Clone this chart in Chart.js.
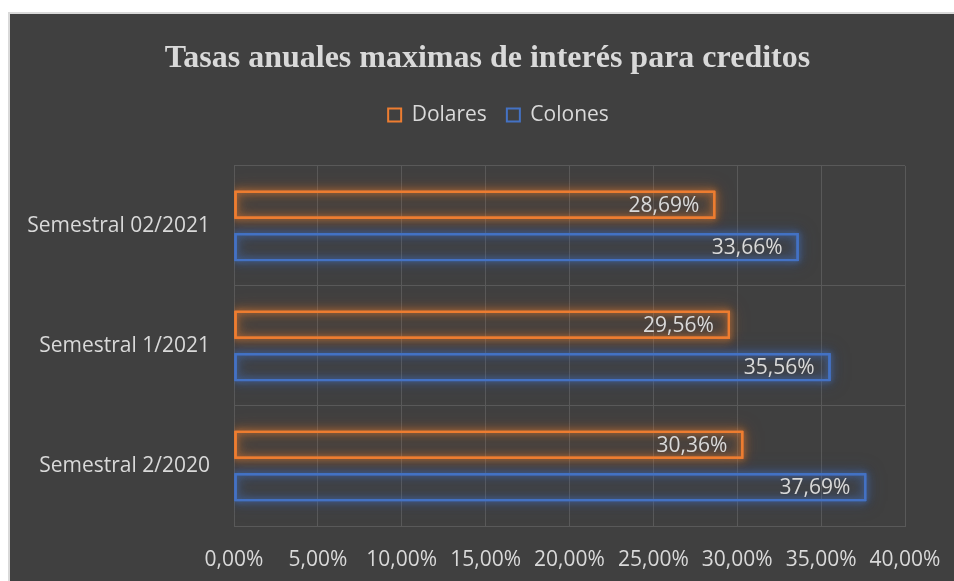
<!DOCTYPE html>
<html>
<head>
<meta charset="utf-8">
<script src="https://cdn.jsdelivr.net/npm/chart.js@4/dist/chart.umd.min.js"></script>
<style>
  html, body { margin: 0; padding: 0; background: #ffffff; width: 954px; height: 581px; overflow: hidden; }
  #wrap { position: absolute; left: 8px; top: 12px; width: 946px; height: 569px;
          border-left: 2px solid #d9d9d9; border-top: 2px solid #d9d9d9; background: #404040; }
  canvas { display: block; }
</style>
</head>
<body>
<div id="wrap"><canvas id="c" width="944" height="567"></canvas></div>
<script>
const categories = ["Semestral 02/2021", "Semestral 1/2021", "Semestral 2/2020"];
const dolares = [28.69, 29.56, 30.36];
const colones = [33.66, 35.56, 37.69];
const seriesNames = ["Dolares", "Colones"];
const xMin = 0, xMax = 40, xStep = 5;

const ORANGE = '#ED7D31';
const BLUE = '#4472C4';
const TEXT = '#d9d9d9';
const GRID = '#595959';
const FONT = '"Open Sans", "Noto Sans", sans-serif';

function fmt(v) { return v.toFixed(2).replace('.', ',') + '%'; }

const glowPlugin = {
  id: 'glow',
  beforeDatasetsDraw(chart) {
    const ctx = chart.ctx, a = chart.chartArea;
    ctx.save();
    ctx.beginPath();
    ctx.rect(a.left, 0, chart.width - a.left, chart.height);
    ctx.clip();
    chart.data.datasets.forEach((ds, i) => {
      const meta = chart.getDatasetMeta(i);
      meta.data.forEach(el => {
        const p = el.getProps(['x', 'y', 'base', 'height'], true);
        const l = Math.min(p.base, p.x), r = Math.max(p.base, p.x);
        const t = p.y - p.height / 2;
        ctx.strokeStyle = ds.glowColor;
        ctx.shadowColor = ds.glowColor;
        ctx.lineWidth = 2;
        [18, 12, 8, 5].forEach(b => {
          ctx.shadowBlur = b;
          ctx.strokeRect(l + 1, t + 1, r - l - 2, p.height - 2);
        });
      });
    });
    ctx.restore();
  }
};

const labelPlugin = {
  id: 'barLabels',
  afterDatasetsDraw(chart) {
    const ctx = chart.ctx;
    ctx.save();
    ctx.font = '21px ' + FONT;
    ctx.fillStyle = TEXT;
    ctx.textAlign = 'right';
    ctx.textBaseline = 'middle';
    chart.data.datasets.forEach((ds, i) => {
      const meta = chart.getDatasetMeta(i);
      meta.data.forEach((el, j) => {
        const p = el.getProps(['x', 'y'], true);
        ctx.fillText(fmt(ds.data[j]), p.x - 16, p.y + 1);
      });
    });
    ctx.restore();
  }
};

const layoutTweaks = {
  id: 'layoutTweaks',
  beforeLayout(chart) {
    const lg = chart.legend;
    if (lg && !lg._spaced) {
      const f = lg.fit.bind(lg);
      lg.fit = function () { f(); this.height += 30.5; };
      lg._spaced = true;
    }
  },
  afterLayout(chart) {
    const lg = chart.legend, tt = chart.titleBlock;
    if (lg) { lg.left += 41; lg.right += 41; }
    if (tt) { tt.left += 30; tt.right += 30; }
  }
};

new Chart(document.getElementById('c'), {
  type: 'bar',
  data: {
    labels: categories,
    datasets: [
      { label: seriesNames[0], data: dolares, backgroundColor: 'rgba(0,0,0,0)', borderColor: ORANGE,
        borderWidth: 2, borderSkipped: false, glowColor: 'rgba(237,125,49,0.8)',
        categoryPercentage: 0.706, barPercentage: 0.659 },
      { label: seriesNames[1], data: colones, backgroundColor: 'rgba(0,0,0,0)', borderColor: BLUE,
        borderWidth: 2, borderSkipped: false, glowColor: 'rgba(68,114,196,0.8)',
        categoryPercentage: 0.706, barPercentage: 0.659 }
    ]
  },
  options: {
    indexAxis: 'y',
    responsive: false,
    animation: false,
    layout: { padding: { left: 0, right: 49, top: 0, bottom: 0 } },
    scales: {
      x: {
        min: xMin, max: xMax,
        ticks: { stepSize: xStep, callback: v => fmt(v), color: TEXT, font: { family: FONT, size: 21 }, padding: 21, maxRotation: 0 },
        grid: { color: GRID, lineWidth: 1, drawTicks: false },
        border: { color: GRID },
        afterFit(s) { s.height = 55; s.paddingRight = 0; s.paddingLeft = 0; }
      },
      y: {
        ticks: { color: TEXT, font: { family: FONT, size: 21 }, padding: 24 },
        grid: { color: GRID, lineWidth: 1, drawTicks: false, offset: true },
        border: { color: GRID },
        afterFit(s) { s.width = 224; }
      }
    },
    plugins: {
      title: {
        display: true,
        text: 'Tasas anuales maximas de interés para creditos',
        color: TEXT,
        font: { family: '"Liberation Serif", "Times New Roman", serif', size: 32, weight: 'bold' },
        padding: { top: 26, bottom: 6 }
      },
      legend: {
        display: true,
        position: 'top',
        labels: { color: TEXT, font: { family: FONT, size: 21 }, boxWidth: 13, boxHeight: 13, padding: 20 }
      },
      tooltip: { enabled: false }
    }
  },
  plugins: [glowPlugin, labelPlugin, layoutTweaks]
});
</script>
</body>
</html>
